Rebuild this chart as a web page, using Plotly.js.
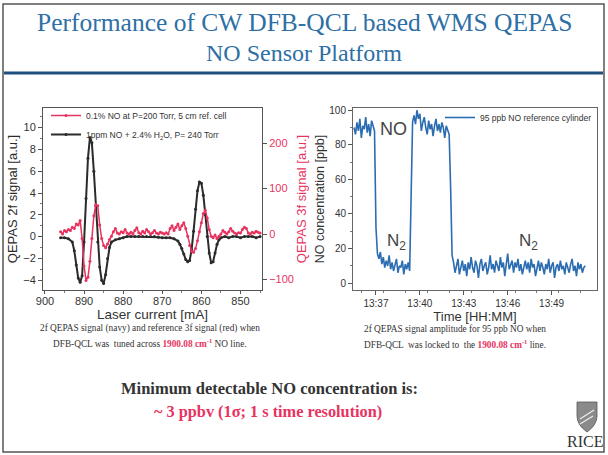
<!DOCTYPE html>
<html><head><meta charset="utf-8">
<script src="https://cdn.plot.ly/plotly-3.0.1.min.js"></script>
<style>html,body{margin:0;padding:0;background:#fff;}#chart{width:608px;height:455px;}</style>
</head><body><div id="chart"></div>
<script>
// ---- Left chart: laser current scan ----
const current2f = [896,895,894,893,892.5,892,891.5,891,890.5,890,889.5,889,888.5,888,887.5,887,886.5,886,885.5,885,884.5,884,883.5,883,882,881,880,879,878,877,876,875,874,873,872,871,870,869,868,867,866,865.5,865,864.5,864,863.5,863,862.5,862,861.5,861,860.5,860,859.5,859,858.5,858,857.5,857,856.5,856,855.5,855,854,853,852,851,850,849,848,847,846,845];
const signal2f = [-0.1,-0.1,-0.2,-0.5,-1.3,-2.6,-3.8,-4.2,-3.6,-0.5,3.5,7.2,9.1,8.6,6.0,2.8,-0.5,-2.8,-4.0,-4.3,-3.5,-2.0,-1.0,-0.5,-0.3,-0.2,-0.1,0,0,0,0,0,0,0,0,-0.05,-0.1,-0.1,-0.1,-0.2,-0.4,-0.7,-1.1,-1.6,-2.1,-2.3,-2.2,-1.2,0.5,2.5,4.2,5.0,4.9,3.8,2.0,0.0,-1.5,-2.4,-2.3,-1.5,-0.7,-0.3,-0.1,0,-0.1,0,0,-0.1,0,0,0,-0.1,0];
const current3f = [896,895.5,895,894.5,894,893.5,893,892.5,892,891.5,891,890.5,890,889.5,889,888.5,888,887.5,887,886.5,886,885.5,885,884.5,884,883.5,883,882.5,882,881.5,881,880.5,880,879.5,879,878.5,878,877.5,877,876.5,876,875.5,875,874.5,874,873.5,873,872.5,872,871.5,871,870.5,870,869.5,869,868.5,868,867.5,867,866.5,866,865.5,865,864.5,864,863.5,863,862.5,862,861.5,861,860.5,860,859.5,859,858.5,858,857.5,857,856.5,856,855.5,855,854.5,854,853.5,853,852.5,852,851.5,851,850.5,850,849.5,849,848.5,848,847.5,847,846.5,846,845.5,845];
const signal3f = [5,0,8,5,10,8,15,12,22,20,30,-10,-70,-102,-95,-60,-10,40,65,62,20,-10,-25,-30,-22,-12,-5,5,12,2,0,5,3,10,2,0,4,0,8,14,3,0,6,2,10,5,0,3,8,2,0,4,2,0,3,0,12,18,8,15,22,10,18,25,12,-5,-25,-38,-40,-32,-15,5,25,45,52,35,10,-5,-8,-2,-10,-5,0,8,4,0,5,12,6,2,0,3,2,10,15,12,2,0,4,2,6,4,2];
const currentTicks = [900,890,880,870,860,850];

// ---- Right chart: locked-laser time series (minutes after 13:00) ----
const timeMin = [
 35.5,35.6,35.7,35.8,35.9,36.0,36.1,36.2,36.3,36.4,36.5,36.6,36.7,36.8,36.9,
 37.0,37.1,
 37.2,37.3,37.4,37.5,37.6,37.7,37.8,37.9,38.0,38.1,38.2,38.3,38.4,38.5,38.6,38.7,38.8,38.9,39.0,39.1,39.2,39.3,
 39.4,39.5,
 39.6,39.7,39.8,39.9,40.0,40.1,40.2,40.3,40.4,40.5,40.6,40.7,40.8,40.9,41.0,41.1,41.2,41.3,41.4,41.5,41.6,41.7,41.8,41.9,42.0,
 42.1,42.2,
 42.3,42.4,42.5,42.6,42.7,42.8,42.9,43.0,43.1,43.2,
 43.3,43.4,43.5,43.6,43.7,43.8,43.9,44.0,44.1,44.2,
 44.3,44.4,44.5,44.6,44.7,44.8,44.9,45.0,45.1,45.2,
 45.3,45.4,45.5,45.6,45.7,45.8,45.9,46.0,46.1,46.2,
 46.3,46.4,46.5,46.6,46.7,46.8,46.9,47.0,47.1,47.2,
 47.3,47.4,47.5,47.6,47.7,47.8,47.9,48.0,48.1,48.2,
 48.3,48.4,48.5,48.6,48.7,48.8,48.9,49.0,49.1,49.2,
 49.3,49.4,49.5,49.6,49.7,49.8,49.9,50.0,50.1,50.2,
 50.3,50.4,50.5,50.6,50.7,50.8,50.9,51.0,51.1,51.2,
 51.3];
const noPpb = [
 90,86,93,88,95,84,91,89,96,87,92,85,94,90,88,
 32,17,
 14,18,11,15,9,13,10,16,8,12,7,11,14,6,10,9,13,5,11,8,12,7,
 55,93,
 97,92,100,95,98,88,93,96,90,86,94,89,92,85,91,95,88,92,87,93,90,84,91,89,86,
 55,16,
 12,6,10,14,5,9,13,7,11,4,
 12,8,15,9,6,13,10,3,11,14,
 7,10,12,5,9,16,8,11,6,13,
 10,7,15,9,12,4,11,17,8,10,
 13,6,12,9,14,7,11,5,10,13,
 8,12,6,14,9,11,4,10,13,7,
 12,9,5,11,8,14,6,10,12,3,
 9,11,7,13,8,10,5,12,9,6,
 11,14,7,10,4,12,8,11,6,9,
 10];
const timeTickVals = [37,40,43,46,49];
const timeTickText = ['13:37','13:40','13:43','13:46','13:49'];

const W = 608, H = 455;
const fx = x => x / W, fy = y => 1 - y / H;
const SANS = 'Liberation Sans, Arial, sans-serif';
const SERIF = 'Liberation Serif, Times New Roman, serif';
const RED = '#e8335f';
const DARK = '#333333';

const traces = [
  {x: current3f, y: signal3f, xaxis: 'x', yaxis: 'y3', type: 'scatter', mode: 'lines+markers',
   name: '0.1% NO at P=200 Torr, 5 cm ref. cell',
   line: {color: RED, width: 1.5}, marker: {color: RED, size: 3}, legend: 'legend'},
  {x: current2f, y: signal2f, xaxis: 'x', yaxis: 'y', type: 'scatter', mode: 'lines+markers',
   name: '1ppm NO + 2.4% H<sub>2</sub>O, P= 240 Torr',
   line: {color: '#2b2b2b', width: 2}, marker: {color: '#2b2b2b', size: 3}, legend: 'legend'},
  {x: timeMin, y: noPpb, xaxis: 'x2', yaxis: 'y2', type: 'scatter', mode: 'lines',
   name: '95 ppb NO reference cylinder',
   line: {color: '#2c6db2', width: 1.6}, legend: 'legend2'}
];

const axFont = {family: SANS, size: 11, color: DARK};
function note(x, y, text, font, xref, yref) {
  return {xref: xref || 'paper', yref: yref || 'paper', x: x, y: y, text: text, showarrow: false,
          xanchor: 'center', yanchor: 'middle', font: font};
}
const capFont = {family: SERIF, size: 9.3, color: DARK};
const redCm = '<b><span style="color:' + RED + '">1900.08 cm<sup>-1</sup></span></b>';

const layout = {
  width: W, height: H, margin: {l: 0, r: 0, t: 0, b: 0},
  paper_bgcolor: '#fff', plot_bgcolor: '#fff', showlegend: true,
  font: {family: SANS, color: DARK},
  xaxis: {domain: [fx(43), fx(262)], range: [900.5, 844.5], anchor: 'y',
    tickvals: currentTicks, ticks: 'outside', ticklen: 3, tickcolor: '#555', ticklabelstandoff: -2,
    minor: {ticks: 'outside', ticklen: 2, dtick: 5, tickcolor: '#777'},
    showline: true, mirror: true, linecolor: '#555', showgrid: false, zeroline: false,
    tickfont: axFont,
    title: {text: 'Laser current [mA]', font: {family: SANS, size: 13.5, color: DARK}, standoff: 0}},
  yaxis: {domain: [fy(290), fy(108)], range: [-4.9, 11.8], anchor: 'x',
    tickvals: [-4,-2,0,2,4,6,8,10], ticks: 'outside', ticklen: 4, tickcolor: '#555',
    minor: {ticks: 'outside', ticklen: 2, dtick: 1, tickcolor: '#777'},
    showline: true, mirror: true, linecolor: '#555', showgrid: false, zeroline: false,
    tickfont: axFont,
    title: {text: 'QEPAS 2f signal [a.u.]', font: {family: SANS, size: 13, color: '#2a2a2a'}, standoff: 2}},
  yaxis3: {overlaying: 'y', side: 'right', anchor: 'x', range: [-123, 277],
    tickvals: [-100, 0, 100, 200], ticks: 'outside', ticklen: 4, tickcolor: '#555',
    showline: false, showgrid: false, zeroline: false,
    tickfont: {family: SANS, size: 11, color: RED},
    title: {text: 'QEPAS 3f signal [a.u.]', font: {family: SANS, size: 13, color: RED}, standoff: 3}},
  xaxis2: {domain: [fx(353), fx(597)], range: [35.43, 52.1], anchor: 'y2',
    tickvals: timeTickVals, ticktext: timeTickText, ticks: 'outside', ticklen: 4, tickcolor: '#555',
    minor: {ticks: 'outside', ticklen: 2, dtick: 1.5, tickcolor: '#777'},
    showline: true, mirror: true, linecolor: '#666', showgrid: false, zeroline: false,
    tickfont: {family: SANS, size: 10, color: DARK},
    title: {text: 'Time [HH:MM]', font: {family: SANS, size: 13, color: DARK}, standoff: 3}},
  yaxis2: {domain: [fy(290), fy(108)], range: [-4, 101.3], anchor: 'x2',
    tickvals: [0,20,40,60,80,100], ticks: 'outside', ticklen: 4, tickcolor: '#555',
    minor: {ticks: 'outside', ticklen: 2, dtick: 10, tickcolor: '#777'},
    showline: true, mirror: true, linecolor: '#666', showgrid: false, zeroline: false,
    tickfont: {family: SANS, size: 10, color: DARK},
    title: {text: 'NO concentration [ppb]', font: {family: SANS, size: 12.5, color: DARK}, standoff: 1}},
  legend: {x: fx(46), y: fy(101), xanchor: 'left', yanchor: 'top', bgcolor: 'rgba(0,0,0,0)',
    font: {family: SANS, size: 8.5, color: DARK}, itemwidth: 30, tracegroupgap: 0, traceorder: 'normal'},
  legend2: {x: fx(597), y: fy(103), xanchor: 'right', yanchor: 'top', bgcolor: 'rgba(0,0,0,0)',
    font: {family: SANS, size: 8.5, color: DARK}, itemwidth: 30},
  shapes: [
    {type: 'rect', xref: 'paper', yref: 'paper', x0: fx(3), x1: fx(604), y0: fy(452), y1: fy(4),
     line: {color: '#555', width: 1.5}},
    {type: 'line', xref: 'paper', yref: 'paper', x0: fx(4), x1: fx(603), y0: fy(73), y1: fy(73),
     line: {color: '#1f4f7c', width: 3}},
    // RICE shield
    {type: 'path', xref: 'paper', yref: 'paper',
     path: `M ${fx(577)} ${fy(402)} L ${fx(597)} ${fy(402)} L ${fx(597)} ${fy(416)} Q ${fx(597)} ${fy(425)} ${fx(587)} ${fy(432)} Q ${fx(577)} ${fy(425)} ${fx(577)} ${fy(416)} Z`,
     fillcolor: '#8a8a8a', line: {color: '#555', width: 0.8}},
    {type: 'path', xref: 'paper', yref: 'paper',
     path: `M ${fx(580)} ${fy(419)} L ${fx(594)} ${fy(410)} M ${fx(580)} ${fy(424)} L ${fx(593)} ${fy(416)}`,
     line: {color: '#eeeeee', width: 1.2}}
  ],
  annotations: [
    note(fx(304), fy(22), 'Performance of CW DFB-QCL based WMS QEPAS', {family: SERIF, size: 25.5, color: '#2e6fa5'}),
    note(fx(304), fy(53), 'NO Sensor Platform', {family: SERIF, size: 24, color: '#2e6fa5'}),
    note(38.23, 89, 'NO', {family: SANS, size: 18, color: '#444'}, 'x2', 'y2'),
    note(38.43, 24, 'N<sub>2</sub>', {family: SANS, size: 17, color: '#444'}, 'x2', 'y2'),
    note(47.43, 24, 'N<sub>2</sub>', {family: SANS, size: 17, color: '#444'}, 'x2', 'y2'),
    note(fx(150), fy(328), '2f QEPAS signal (navy) and reference 3f signal (red) when', capFont),
    note(fx(150), fy(343), 'DFB-QCL was  tuned across ' + redCm + ' NO line.', capFont),
    note(fx(455), fy(329), '2f QEPAS signal amplitude for 95 ppb NO when', capFont),
    note(fx(455), fy(344), 'DFB-QCL  was locked to  the ' + redCm + ' line.', capFont),
    note(fx(269), fy(388), '<b>Minimum detectable NO concentration is:</b>', {family: SERIF, size: 16.5, color: DARK}),
    note(fx(268), fy(411), '<b>~ 3 ppbv (1σ; 1 s time resolution)</b>', {family: SERIF, size: 16.3, color: RED}),
    note(fx(585), fy(441), 'RICE', {family: SERIF, size: 16, color: '#333'})
  ]
};

Plotly.newPlot('chart', traces, layout, {displayModeBar: false, staticPlot: true});
</script>
</body></html>
